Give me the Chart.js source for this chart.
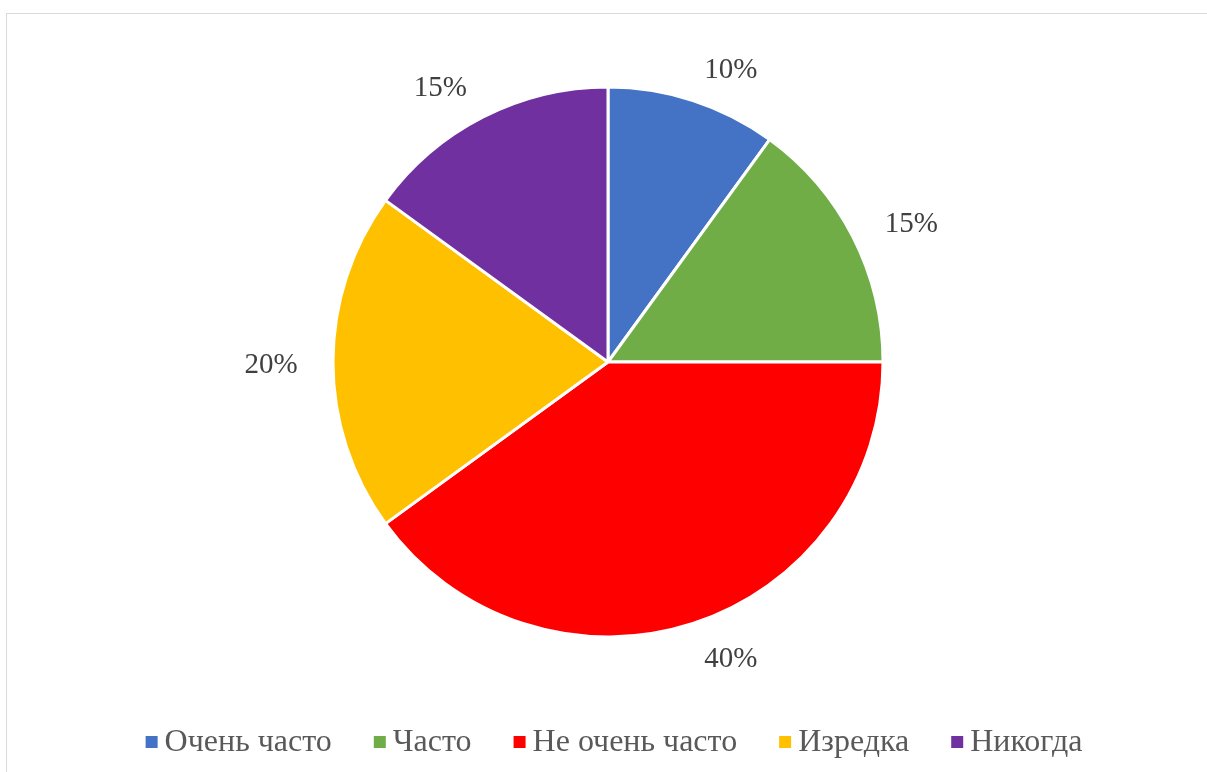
<!DOCTYPE html>
<html>
<head>
<meta charset="utf-8">
<script src="https://cdn.jsdelivr.net/npm/chart.js@4"></script>
<style>
  html, body { margin: 0; padding: 0; background: #fff; overflow: hidden; }
  #frame { position: absolute; left: 6px; top: 13px; width: 1230px; height: 800px; border: 1.5px solid #d9d9d9; }
  #wrap { position: absolute; left: 0; top: 0; width: 1207px; height: 772px; }
</style>
</head>
<body>
<div id="frame"></div>
<div id="wrap"><canvas id="pie"></canvas></div>
<script>
// Survey answers, share of respondents in percent
const categories = ['Очень часто', 'Часто', 'Не очень часто', 'Изредка', 'Никогда'];
const shares = [10, 15, 40, 20, 15];
const colors = ['#4472C4', '#70AD47', '#FF0000', '#FFC000', '#7030A0'];

const FONT = '"Liberation Serif", "Times New Roman", serif';

// percentage labels outside each slice
const outsideLabels = {
  id: 'outsideLabels',
  afterDatasetsDraw(chart) {
    const ctx = chart.ctx;
    const meta = chart.getDatasetMeta(0);
    ctx.save();
    ctx.font = '29px ' + FONT;
    ctx.fillStyle = '#404040';
    ctx.textAlign = 'center';
    ctx.textBaseline = 'middle';
    meta.data.forEach((arc, i) => {
      const mid = (arc.startAngle + arc.endAngle) / 2;
      const R = arc.outerRadius + 35;
      const c = Math.cos(mid), s = Math.sin(mid);
      const x = arc.x + R * c + Math.sign(c) * 27;
      const y = arc.y + R * s + 3;
      ctx.fillText(shares[i] + '%', x, y);
    });
    ctx.restore();
  }
};

// legend row along the bottom: small squares with tight spacing
const bottomLegend = {
  id: 'bottomLegend',
  afterDraw(chart) {
    const ctx = chart.ctx;
    const box = 12, boxGap = 7, itemGap = 42;
    ctx.save();
    ctx.font = '32px ' + FONT;
    const widths = categories.map(t => ctx.measureText(t).width);
    let total = 0;
    widths.forEach((w, i) => { total += box + boxGap + w + (i < widths.length - 1 ? itemGap : 0); });
    let x = 614 - total / 2;
    const y = 742;
    ctx.textBaseline = 'middle';
    ctx.textAlign = 'left';
    categories.forEach((t, i) => {
      ctx.fillStyle = colors[i];
      ctx.fillRect(x, y - 6, box, box);
      ctx.fillStyle = '#595959';
      ctx.fillText(t, x + box + boxGap, y + 1);
      x += box + boxGap + widths[i] + itemGap;
    });
    ctx.restore();
  }
};

new Chart(document.getElementById('pie'), {
  type: 'pie',
  data: {
    labels: categories,
    datasets: [{
      data: shares,
      backgroundColor: colors,
      borderColor: '#ffffff',
      borderWidth: 3,
      radius: 275
    }]
  },
  options: {
    responsive: true,
    maintainAspectRatio: false,
    animation: false,
    layout: { padding: { left: 9, top: 0, right: 0, bottom: 48 } },
    plugins: {
      legend: { display: false },
      tooltip: { enabled: false }
    }
  },
  plugins: [outsideLabels, bottomLegend]
});
</script>
</body>
</html>
